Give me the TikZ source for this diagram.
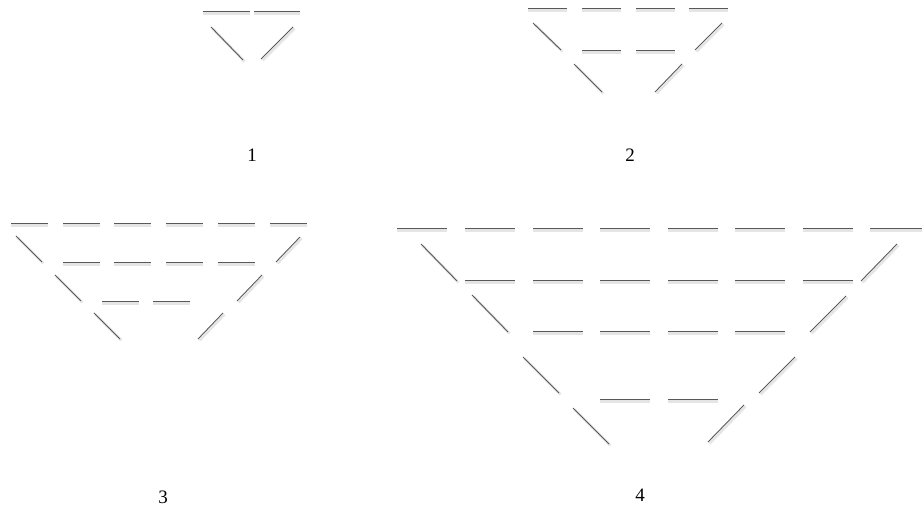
\documentclass[tikz,border=0pt]{standalone}
\usepackage{fontspec}
\setmainfont{Liberation Serif}
\begin{document}
\begin{tikzpicture}[
        x=1pt, y=-1pt,
        stick/.style={draw=black!65, line width=0.9pt},
        glow/.style={draw=black!10, line width=2.6pt},
        numlabel/.style={font=\fontsize{19}{22}\selectfont, inner sep=0pt}
    ]
    \useasboundingbox (0,0) rectangle (922,510);

    % ==========================================
    % horizontal sticks: x / y / length
    % ==========================================
    \foreach \x/\y/\w in {
        203/11/47, 254/11/46,
        528/8/39, 582/8/39, 636/8/39, 689/8/39,
        582/50/39, 636/50/39,
        11/223/37, 63/223/37, 114/223/37, 166/223/37, 218/223/37, 270/223/37,
        63/262/37, 114/262/37, 166/262/37, 218/262/37,
        102/301/37, 153/301/37,
        397/228/50, 465/228/50, 533/228/50, 600/228/50, 668/228/50, 735/228/50, 803/228/50, 870/228/52,
        465/280/50, 533/280/50, 600/280/50, 668/280/50, 735/280/50, 803/280/50,
        533/331/50, 600/331/50, 668/331/50, 735/331/50,
        600/399/50, 668/399/50} {
        \draw[glow] (\x,{\y+2.5}) -- ++(\w,0);
        \draw[stick] (\x,\y) -- ++(\w,0);
    }

    % ==========================================
    % slanted sticks: from x,y to x,y
    % ==========================================
    \foreach \xa/\ya/\xb/\yb in {
        211/27/243/60, 293/27/261/59,
        533/23/561/50, 574/64/602/92, 722/23/695/50, 682/64/655/92,
        16/236/42/262, 55/275/81/301, 94/313/120/339,
        300/237/276/262, 262/275/237/301, 223/313/198/339,
        421/244/457/281, 472/295/508/332, 523/357/559/393, 573/408/609/444,
        897/244/861/281, 846/296/810/332, 795/357/759/393, 744/405/708/442} {
        \draw[glow] ({\xa+1.5},{\ya+1.5}) -- ({\xb+1.5},{\yb+1.5});
        \draw[stick] (\xa,\ya) -- (\xb,\yb);
    }

    % numbers under the figures
    \node[numlabel] (lab1) at (252,155) {1};
    \node[numlabel] (lab2) at (630,155) {2};
    \node[numlabel] (lab3) at (163,497) {3};
    \node[numlabel] (lab4) at (640,495) {4};

\end{tikzpicture}
\end{document}
